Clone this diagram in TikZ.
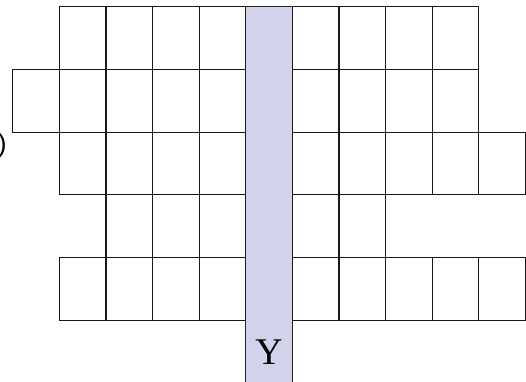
\documentclass[tikz,border=0pt]{standalone}
\usepackage{fontspec}
\usepackage{tikz}
\usetikzlibrary{calc}
\newfontfamily\labelserif{Liberation Serif}
\newfontfamily\labelsans{Liberation Sans}
\definecolor{stripblue}{RGB}{208,211,234}
\tikzset{
  cell/.style={draw=black!90, line width=0.75pt},
  stripfill/.style={fill=stripblue},
  stripedge/.style={draw=black!85, line width=0.75pt},
  ylabel/.style={font=\labelserif\fontsize{23}{26}\selectfont, inner sep=0pt, anchor=base},
  cutlabel/.style={font=\labelsans\fontsize{16}{18}\selectfont, inner sep=0pt, anchor=east}
}
\begin{document}
\begin{tikzpicture}[x=1cm,y=-1.345cm]
  \useasboundingbox (-1.272,-0.107) rectangle (10.011,5.984);

  % Shaded column running down through the grid.
  \fill[stripfill] (4,0) rectangle (5,5.984);
  \draw[stripedge] (4,5.984) -- (4,0) -- (5,0) -- (5,5.984);

  % Cells left of the column: row/first/last.
  \foreach \r/\a/\b in {0/0/3, 1/-1/3, 2/0/3, 3/1/3, 4/0/3} {
    \foreach \c in {\a,...,\b} {
      \draw[cell] (\c,\r) rectangle ++(1,1);
    }
  }

  % Cells right of the column: row/last.
  \foreach \r/\b in {0/8, 1/8, 2/9, 3/6, 4/9} {
    \foreach \c in {5,...,\b} {
      \draw[cell] (\c,\r) rectangle ++(1,1);
    }
  }

  % Labels.
  \node[ylabel] (ylab) at (4.5,5.713) {Y};
  \node[cutlabel] (cut) at (-1.122,2.22) {)};
\end{tikzpicture}
\end{document}
